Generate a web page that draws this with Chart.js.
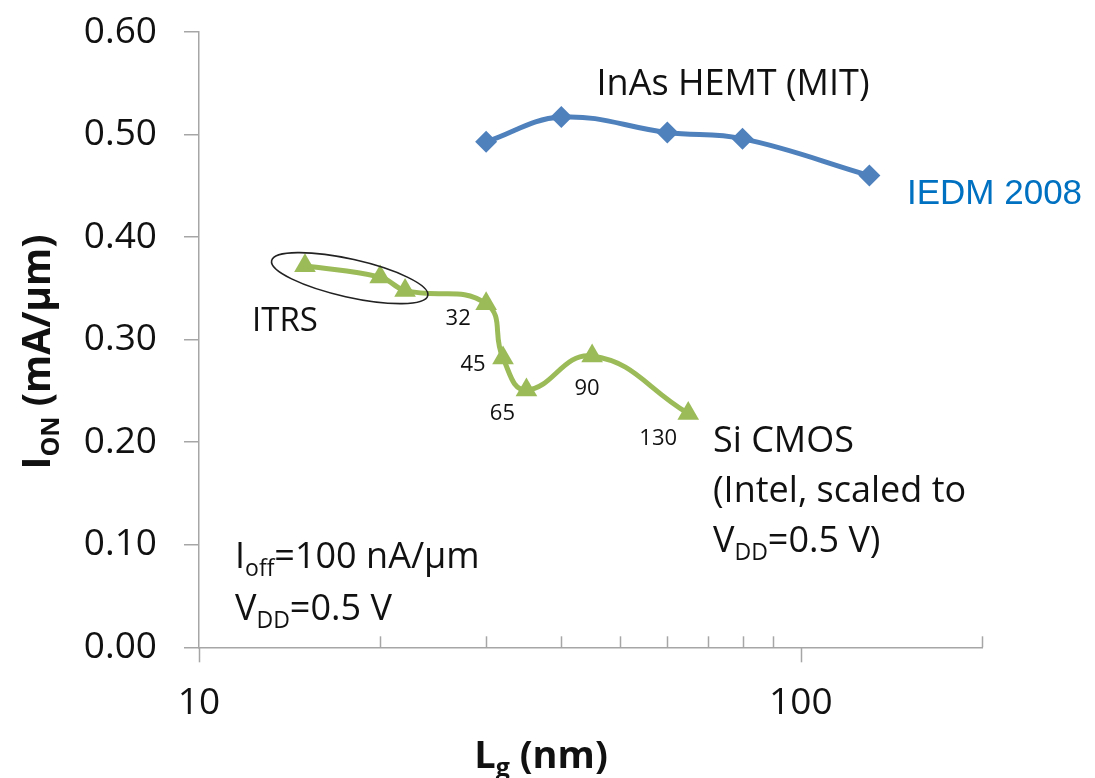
<!DOCTYPE html>
<html>
<head>
<meta charset="utf-8">
<script src="https://cdn.jsdelivr.net/npm/chart.js@4"></script>
<style>
  body { margin: 0; background: #fff; }
  #wrap { width: 1095px; height: 778px; }
</style>
</head>
<body>
<div id="wrap"><canvas id="chart" width="1095" height="778"></canvas></div>
<script>
const FONT = "'Open Sans', sans-serif";

// InAs HEMT (MIT), IEDM 2008
const hemtLg = [30, 40, 60, 80, 130];
const hemtIon = [0.493, 0.517, 0.502, 0.496, 0.460];

// Si CMOS, ITRS points then Intel nodes
const cmosLg = [15, 20, 22, 30, 32, 35, 45, 65];
const cmosIon = [0.372, 0.361, 0.348, 0.335, 0.282, 0.251, 0.284, 0.228];
const cmosNode = [null, null, null, '32', '45', '65', '90', '130'];

const yTicks = [0, 0.1, 0.2, 0.3, 0.4, 0.5, 0.6];
const xTicks = [10, 20, 30, 40, 50, 60, 70, 80, 90, 100, 200];
const xTickLabels = [10, 100];

const AXIS_GREY = '#a6a6a6';

function toPoints(xs, ys) {
    return xs.map((x, i) => ({x: x, y: ys[i]}));
}

// draws a run of text pieces, some of them as subscripts
function drawRich(ctx, parts, x, y, size, opts) {
    opts = opts || {};
    let weight = opts.bold ? 'bold ' : '';
    let family = opts.family || FONT;
    let subSize = Math.round(size * 0.65);
    let width = 0;
    for (const p of parts) {
        ctx.font = weight + (p.sub ? subSize : size) + 'px ' + family;
        width += ctx.measureText(p.t).width;
    }
    let cx = x;
    if (opts.align == 'center') cx = x - width / 2;
    ctx.textAlign = 'left';
    ctx.textBaseline = 'alphabetic';
    for (const p of parts) {
        ctx.font = weight + (p.sub ? subSize : size) + 'px ' + family;
        ctx.fillText(p.t, cx, p.sub ? y + size * 0.22 : y);
        cx += ctx.measureText(p.t).width;
    }
}

const annotations = {
    id: 'annotations',
    afterDraw(chart) {
        const ctx = chart.ctx;
        const xs = chart.scales.x;
        const ys = chart.scales.y;
        const area = chart.chartArea;
        ctx.save();

        // x tick marks: majors hang below, minors sit above the axis
        ctx.strokeStyle = AXIS_GREY;
        ctx.lineWidth = 1.5;
        for (const v of xTicks) {
            let px = Math.round(xs.getPixelForValue(v)) + 0.5;
            ctx.beginPath();
            if (xTickLabels.includes(v)) {
                ctx.moveTo(px, area.bottom);
                ctx.lineTo(px, area.bottom + 15);
            } else {
                ctx.moveTo(px, area.bottom - 11);
                ctx.lineTo(px, area.bottom);
            }
            ctx.stroke();
        }

        // ellipse round the ITRS points
        let ex = xs.getPixelForValue(17.8);
        let ey = ys.getPixelForValue(0.36);
        ctx.strokeStyle = '#222';
        ctx.lineWidth = 1.6;
        ctx.beginPath();
        ctx.ellipse(ex, ey, 80, 19, 0.22, 0, Math.PI * 2);
        ctx.stroke();

        ctx.fillStyle = '#111';

        // node labels beside the Intel points
        const nodeOffsets = {
            '32': [-28, 15], '45': [-30, 7], '65': [-24, 24],
            '90': [-5, 33], '130': [-30, 25]
        };
        ctx.font = '22px ' + FONT;
        ctx.textAlign = 'center';
        ctx.textBaseline = 'middle';
        cmosNode.forEach((n, i) => {
            if (!n) return;
            let o = nodeOffsets[n];
            ctx.fillText(n, xs.getPixelForValue(cmosLg[i]) + o[0], ys.getPixelForValue(cmosIon[i]) + o[1]);
        });

        drawRich(ctx, [{t: 'ITRS'}], 252, 331, 33);
        drawRich(ctx, [{t: 'InAs HEMT (MIT)'}], 733, 95, 36, {align: 'center'});

        ctx.fillStyle = '#0070c0';
        drawRich(ctx, [{t: 'IEDM 2008'}], 907, 204, 35, {family: "'Liberation Sans', Arial, sans-serif"});

        ctx.fillStyle = '#111';
        drawRich(ctx, [{t: 'Si CMOS'}], 713, 452, 36);
        drawRich(ctx, [{t: '(Intel, scaled to'}], 713, 502, 36);
        drawRich(ctx, [{t: 'V'}, {t: 'DD', sub: true}, {t: '=0.5 V)'}], 713, 552, 36);

        drawRich(ctx, [{t: 'I'}, {t: 'off', sub: true}, {t: '=100 nA/\u00b5m'}], 235, 568, 36);
        drawRich(ctx, [{t: 'V'}, {t: 'DD', sub: true}, {t: '=0.5 V'}], 235, 620, 36);

        // axis titles
        drawRich(ctx, [{t: 'L'}, {t: 'g', sub: true}, {t: ' (nm)'}], 541, 768, 38, {bold: true, align: 'center'});
        ctx.save();
        ctx.translate(50, 352);
        ctx.rotate(-Math.PI / 2);
        drawRich(ctx, [{t: 'I'}, {t: 'ON', sub: true}, {t: ' (mA/\u00b5m)'}], 0, 0, 39, {bold: true, align: 'center'});
        ctx.restore();

        ctx.restore();
    }
};

new Chart(document.getElementById('chart'), {
    type: 'line',
    data: {
        datasets: [
            {
                label: 'InAs HEMT (MIT)',
                data: toPoints(hemtLg, hemtIon),
                borderColor: '#4f81bd',
                backgroundColor: '#4f81bd',
                borderWidth: 5,
                pointStyle: 'rectRot',
                pointRadius: 11,
                pointBorderWidth: 0,
                tension: 0.4
            },
            {
                label: 'Si CMOS',
                data: toPoints(cmosLg, cmosIon),
                borderColor: '#9bbb59',
                backgroundColor: '#9bbb59',
                borderWidth: 5,
                pointStyle: 'triangle',
                pointRadius: 12.5,
                pointBorderWidth: 0,
                tension: 0.45
            }
        ]
    },
    options: {
        responsive: false,
        animation: false,
        devicePixelRatio: 1,
        layout: {padding: {top: 32, right: 113, left: 0, bottom: 0}},
        plugins: {
            legend: {display: false},
            tooltip: {enabled: false}
        },
        scales: {
            x: {
                type: 'logarithmic',
                min: 10,
                max: 200,
                grid: {display: false},
                border: {display: true, color: AXIS_GREY, width: 1.5},
                afterBuildTicks: (scale) => { scale.ticks = xTicks.map(v => ({value: v})); },
                ticks: {
                    color: '#111',
                    font: {family: FONT, size: 37},
                    padding: 26,
                    autoSkip: false,
                    maxRotation: 0,
                    callback: (v) => xTickLabels.includes(v) ? String(v) : ''
                },
                afterFit: (scale) => { scale.height = 130.7; }
            },
            y: {
                min: 0,
                max: 0.6,
                grid: {drawOnChartArea: false, drawTicks: true, tickLength: 15, color: AXIS_GREY, lineWidth: 1.5},
                border: {display: true, color: AXIS_GREY, width: 1.5},
                afterBuildTicks: (scale) => { scale.ticks = yTicks.map(v => ({value: v})); },
                ticks: {
                    color: '#111',
                    font: {family: FONT, size: 37},
                    padding: 27,
                    callback: (v) => Number(v).toFixed(2)
                },
                afterFit: (scale) => {
                    scale.width = 199;
                    scale.paddingTop = 0;
                    scale.paddingBottom = 0;
                }
            }
        }
    },
    plugins: [annotations]
});
</script>
</body>
</html>
